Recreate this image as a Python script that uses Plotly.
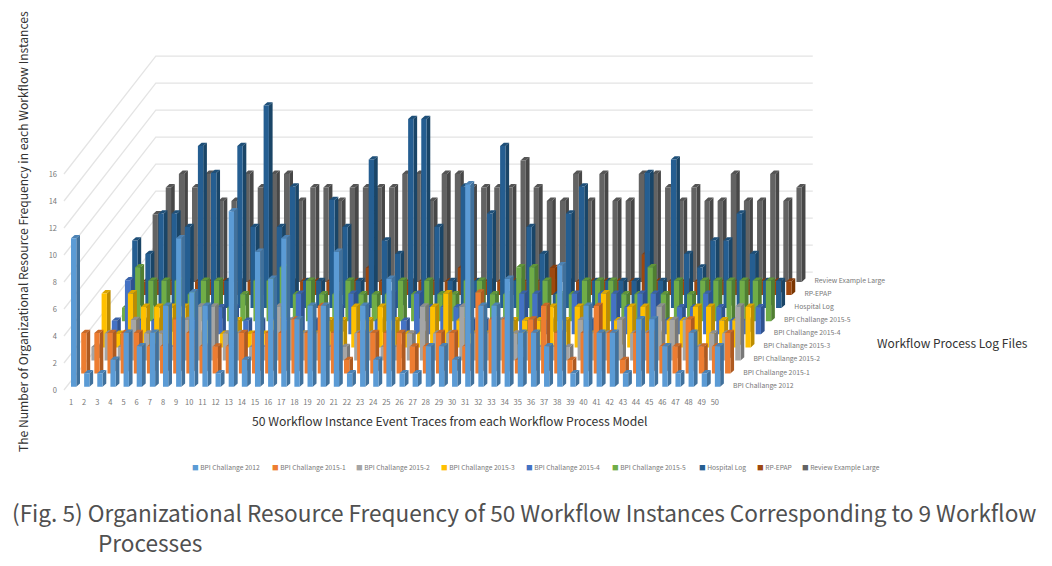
import plotly.graph_objects as go

CATEGORIES = list(range(1, 51))
SERIES_NAMES = ["BPI Challange 2012", "BPI Challange 2015-1", "BPI Challange 2015-2", "BPI Challange 2015-3",
                "BPI Challange 2015-4", "BPI Challange 2015-5", "Hospital Log", "RP-EPAP", "Review Example Large"]
BPI_2012 = [11,1,1,2,4,3,4,6,11,7,6,1,13,2,10,8,11,5,6,6,10,1,6,2,8,1,1,3,3,2,15,6,6,8,4,4,3,9,1,6,4,4,1,5,5,3,1,4,1,3]
BPI_2015_1 = [3,3,3,3,3,2,2,4,3,2,2,2,3,3,3,3,4,3,5,3,1,3,3,3,3,2,2,3,3,2,6,4,4,1,4,5,3,1,3,5,3,1,3,3,2,2,4,2,2,3]
BPI_2015_2 = [1,2,1,3,2,2,1,3,4,4,2,2,1,1,4,3,2,2,1,1,2,2,1,1,2,4,2,2,4,2,2,3,2,2,1,1,1,3,2,2,3,2,2,4,3,3,1,2,2,4]
BPI_2015_3 = [4,1,4,3,3,3,3,1,2,1,2,1,1,2,1,1,1,2,2,3,2,3,2,1,1,3,4,2,1,1,1,2,2,2,3,2,3,1,4,2,3,3,1,2,2,3,3,2,2,3]
BPI_2015_4 = [1,4,1,1,1,1,1,2,2,2,1,1,1,1,3,1,1,2,3,2,1,3,1,3,2,2,2,1,1,1,1,3,3,1,1,3,1,3,3,2,3,3,1,2,2,3,2,1,1,2]
BPI_2015_5 = [1,4,3,3,3,2,3,3,1,2,3,3,4,2,3,2,2,3,2,2,2,3,2,3,2,2,3,3,2,2,4,4,3,2,2,3,3,3,2,2,4,2,3,2,3,3,3,3,3,3]
HOSPITAL = [5,4,7,7,6,12,10,2,12,6,15,6,9,2,2,8,6,2,11,5,4,14,14,6,2,9,2,7,12,2,6,4,1,7,9,2,2,2,2,10,2,11,4,3,5,5,7,4,2,2]
RP_EPAP = [1,1,1,1,1,1,1,1,1,1,1,1,1,1,1,1,1,2,1,1,1,1,1,1,2,1,1,1,1,1,1,2,1,1,1,1,1,1,3,1,1,1,1,1,1,1,1,1,1,1]
REVIEW = [5,7,8,7,8,6,6,8,7,8,8,6,7,7,6,7,7,7,7,8,8,6,8,8,7,7,7,7,9,7,6,6,8,6,8,6,6,8,8,7,6,7,6,6,8,6,6,8,6,7]
ALL_SERIES = [BPI_2012, BPI_2015_1, BPI_2015_2, BPI_2015_3, BPI_2015_4, BPI_2015_5, HOSPITAL, RP_EPAP, REVIEW]
FRONT = ["#5B9BD5","#ED7D31","#A5A5A5","#FFC000","#4472C4","#70AD47","#255E91","#9E480E","#636363"]
SIDE = ["#41719C","#AE5A21","#787878","#BC8C00","#2F528F","#507E32","#1A4567","#7A3500","#474747"]
TOP = ["#4C82B4","#C96A29","#8E8E8E","#DBA600","#3A62A8","#609539","#1F5079","#873D0C","#555555"]
Y_TICKS = [0, 2, 4, 6, 8, 10, 12, 14, 16]

PAGE_MARGIN = 8  # the page body pushes the figure 8px right and down
PX_X, PX_Y = 13.14, 13.5
W, H = 1052 - PAGE_MARGIN, 566 - PAGE_MARGIN
X1_PX, Y0_PX = 71.0 - PAGE_MARGIN, 390.0 - PAGE_MARGIN
BAR_W = 5.3 / PX_X
DEPTH_X, DEPTH_Y = 3.7 / PX_X, 3.3 / PX_Y
ROW_X, ROW_Y = 10.2 / PX_X, 13.1 / PX_Y
LIFT = 3.3 / PX_Y
LABEL_GREY = "#777777"
FONT = "Noto Sans CJK KR"

fig = go.Figure()

left_front = 1 - 7 / PX_X
back_dx, back_dy = 9 * ROW_X, 9 * ROW_Y
gx, gy = [], []
for v in Y_TICKS:
    gx += [left_front, left_front + back_dx, left_front + back_dx + 50, None]
    gy += [v, v + back_dy, v + back_dy, None]
fig.add_trace(go.Scatter(x=gx, y=gy, mode="lines", line=dict(color="#e4e4e4", width=1.3),
                         hoverinfo="skip", showlegend=False))

for r in range(len(ALL_SERIES) - 1, -1, -1):
    fx, fy, sx, sy, tx, ty = [], [], [], [], [], []
    ox, oy = r * ROW_X, r * ROW_Y + LIFT
    for c, v in zip(CATEGORIES, ALL_SERIES[r]):
        l, rgt = c + ox, c + ox + BAR_W
        b, t = oy, oy + v
        fx += [l, rgt, rgt, l, l, None]
        fy += [b, b, t, t, b, None]
        sx += [rgt, rgt + DEPTH_X, rgt + DEPTH_X, rgt, rgt, None]
        sy += [b, b + DEPTH_Y, t + DEPTH_Y, t, b, None]
        tx += [l, rgt, rgt + DEPTH_X, l + DEPTH_X, l, None]
        ty += [t, t, t + DEPTH_Y, t + DEPTH_Y, t, None]
    for xs, ys, col in ((sx, sy, SIDE[r]), (tx, ty, TOP[r]), (fx, fy, FRONT[r])):
        fig.add_trace(go.Scatter(x=xs, y=ys, mode="lines", fill="toself", fillcolor=col,
                                 line=dict(width=0, color=col), name=SERIES_NAMES[r],
                                 hoverinfo="skip", showlegend=False))

fig.add_trace(go.Scatter(
    x=[50 + 1.38 + r * ROW_X for r in range(9)],
    y=[0.30 + r * ROW_Y for r in range(9)],
    text=SERIES_NAMES, mode="text", textposition="middle right",
    textfont=dict(size=6.8, color=LABEL_GREY, family=FONT), hoverinfo="skip", showlegend=False))

fig.update_layout(
    width=W, height=H, margin=dict(l=0, r=0, t=0, b=0), autosize=False,
    paper_bgcolor="white", plot_bgcolor="white", showlegend=False,
    xaxis=dict(range=[1 - X1_PX / PX_X, 1 + (W - X1_PX) / PX_X], domain=[0, 1], tickmode="array",
               tickvals=CATEGORIES, ticktext=[str(c) for c in CATEGORIES], showgrid=False, zeroline=False,
               showline=False, ticks="", anchor="free", position=(H - (Y0_PX + 6)) / H,
               tickfont=dict(size=7.5, color=LABEL_GREY, family=FONT)),
    yaxis=dict(range=[(Y0_PX - H) / PX_Y, Y0_PX / PX_Y], domain=[0, 1], tickmode="array", tickvals=Y_TICKS,
               showgrid=False, zeroline=False, showline=False, ticks="", anchor="free", position=(57 - PAGE_MARGIN) / W,
               tickfont=dict(size=7.5, color=LABEL_GREY, family=FONT)),
)

def note(text, x, y, size, color="#333333", xanchor="left", angle=0):
    fig.add_annotation(text=text, x=(x - PAGE_MARGIN) / W, y=1 - (y - PAGE_MARGIN) / H, xref="paper", yref="paper",
                       showarrow=False, xanchor=xanchor, yanchor="middle", textangle=angle,
                       font=dict(size=size, color=color, family=FONT))

note("The Number of Organizational Resource Frequency in each Workflow Instances", 22, 232, 12.1, xanchor="center", angle=-90)
note("50 Workflow Instance Event Traces from each Workflow Process Model", 449.5, 421, 12.2, xanchor="center")
note("Workflow Process Log Files", 952, 342, 12, xanchor="center")

LEGEND_X = [190, 270, 354, 439, 524, 610, 697, 755, 800]
for name, col, lx in zip(SERIES_NAMES, FRONT, LEGEND_X):
    note(f'<span style="color:{col}">■</span> {name}', lx, 467, 6.7, color=LABEL_GREY)

note("(Fig. 5) Organizational Resource Frequency of 50 Workflow Instances Corresponding to 9 Workflow", 10, 512, 22.6, color="#505050")
note("Processes", 96, 542, 22.6, color="#505050")

fig.write_html("out.html")
